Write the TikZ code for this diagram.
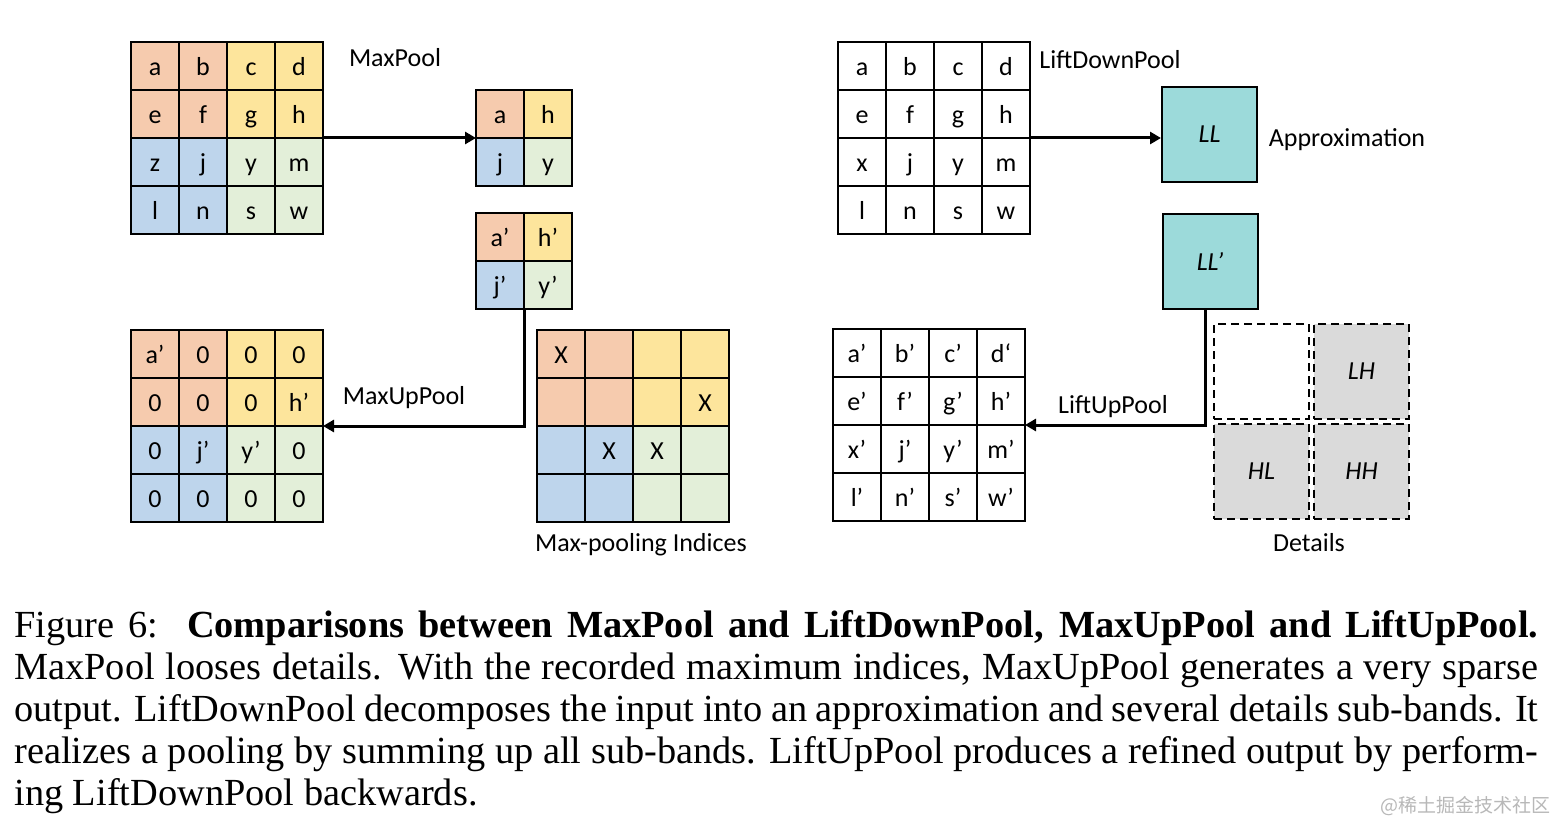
\documentclass[tikz,border=0pt]{standalone}
\usepackage{fontspec}
\setmainfont{Liberation Serif}
\newfontfamily\calibri{Carlito}
\newfontfamily\cjk{Noto Sans CJK SC}
\usetikzlibrary{arrows.meta}
\definecolor{peach}{HTML}{F6CBAE}
\definecolor{gold}{HTML}{FDE59C}
\definecolor{sky}{HTML}{BED5EC}
\definecolor{mint}{HTML}{E3EFD9}
\definecolor{llteal}{HTML}{9CDADA}
\definecolor{detgray}{HTML}{DADADA}
\newcommand\mkgrid[6]{%
  \node[frame, minimum size=#4*24pt] (#1) at ({#2+#4*24},{#3+#4*24}) {};
  \foreach \t [count=\i from 0] in {#6} {
    \pgfmathtruncatemacro\r{floor(\i/#4)}
    \pgfmathtruncatemacro\c{mod(\i,#4)}
    \pgfmathtruncatemacro\h{#4/2}
    \ifnum#5=1
      \pgfmathtruncatemacro\q{(\r>=\h)*2+(\c>=\h)}
      \ifcase\q \def\cc{peach}\or\def\cc{gold}\or\def\cc{sky}\or\def\cc{mint}\fi
    \else
      \def\cc{white}
    \fi
    \node[cell, fill=\cc] (#1-\r-\c) at ({#2+\c*48+24},{#3+\r*48+24}) {\t};
  }
}
\begin{document}
\begin{tikzpicture}[x=0.5pt,y=-0.5pt,
  frame/.style={inner sep=0pt, outer sep=0pt, draw=none},
  cell/.style={draw=black, line width=1pt, minimum size=24pt, inner sep=0pt,
    font=\calibri\fontsize{13}{15}\selectfont, text height=11pt, text depth=1.2pt},
  lbl/.style={font=\calibri\fontsize{13}{15}\selectfont, inner sep=0pt, anchor=base},
  flow/.style={line width=1.5pt, -{Triangle[length=5.5pt,width=6pt]}},
  subband/.style={draw=black, line width=1pt, fill=llteal, minimum size=47.5pt, inner sep=0pt,
    font=\calibri\itshape\fontsize{13}{15}\selectfont},
  detail/.style={draw=black, line width=1pt, dash pattern=on 4pt off 2.5pt, minimum size=47.5pt,
    inner sep=0pt, font=\calibri\itshape\fontsize{13}{15}\selectfont}
]
\useasboundingbox (0,0) rectangle (1558,824);
\fill[white] (0,0) rectangle (1558,824);

% MaxPool side
\mkgrid{in1}{131}{42}{4}{1}{a,b,c,d,e,f,g,h,z,j,y,m,l,n,s,w}
\mkgrid{out1}{476}{90}{2}{1}{a,h,j,y}
\mkgrid{out2}{476}{213}{2}{1}{a’,h’,j’,y’}
\mkgrid{up}{131}{330}{4}{1}{a’,0,0,0,0,0,0,h’,0,j’,y’,0,0,0,0,0}
\mkgrid{idx}{537}{330}{4}{1}{X,{},{},{},{},{},{},X,{},X,X,{},{},{},{},{}}

\node[lbl] (lmax) at (395,67) {MaxPool};
\node[lbl] (lmaxup) at (404,404) {MaxUpPool};
\node[lbl] (lidx) at (641,551) {Max-pooling Indices};

\draw[flow] (in1.east) -- (out1.west);
\draw[flow] (out2.south) |- (up.east);

% Lifting side
\mkgrid{ldp}{838}{42}{4}{0}{a,b,c,d,e,f,g,h,x,j,y,m,l,n,s,w}
\mkgrid{lup}{833}{329}{4}{0}{a’,b’,c’,d‘,e’,f’,g’,h’,x’,j’,y’,m’,l’,n’,s’,w’}

\node[subband] (ll) at (1209.5,134.5) {LL};
\node[subband] (llp) at (1210,261) {LL’};
\node[detail] (dtl) at (1261.5,371.5) {};
\node[detail, fill=detgray] (lh) at (1361.5,371.5) {LH};
\node[detail, fill=detgray] (hl) at (1261.5,471) {HL};
\node[detail, fill=detgray] (hh) at (1361.5,471) {HH};

\node[lbl] (lldp) at (1110,69) {LiftDownPool};
\node[lbl] (lapp) at (1347,147) {Approximation};
\node[lbl] (llup) at (1113,413) {LiftUpPool};
\node[lbl] (ldet) at (1309,551) {Details};

\draw[flow] (ldp.east) -- (ldp.east -| ll.west);
\draw[flow] ([xshift=-2.5pt]llp.south) |- (lup.east);

% caption
\node[anchor=base west, inner sep=0pt, text width=762pt, align=justify,
  font=\fontsize{19.17}{21.09}\selectfont] (cap) at (14,637)
{Figure 6:\ \ \textbf{Comparisons between MaxPool and LiftDownPool, MaxUpPool and LiftUpPool.}\linebreak
MaxPool looses details. With the recorded maximum indices, MaxUpPool generates a very sparse\linebreak
output. LiftDownPool decomposes the input into an approximation and several details sub-bands. It\linebreak
realizes a pooling by summing up all sub-bands. LiftUpPool produces a refined output by perform-\linebreak
ing LiftDownPool backwards.};

\node[anchor=east, inner sep=0pt, text=black!28, font=\cjk\fontsize{9.5}{10}\selectfont] (wm) at (1551,806) {@稀土掘金技术社区};
\end{tikzpicture}
\end{document}
